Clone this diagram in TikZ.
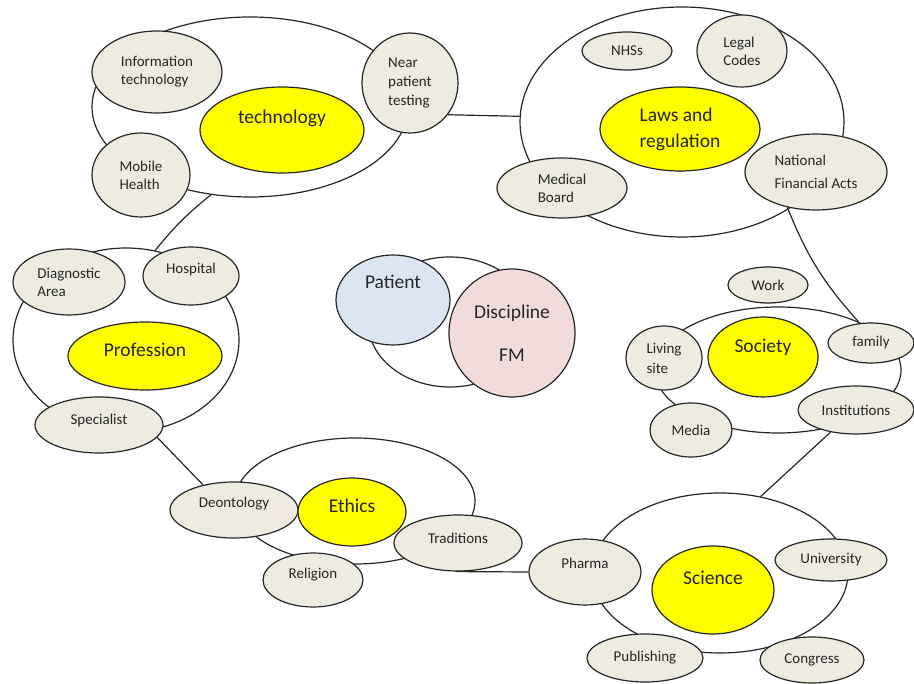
\documentclass[tikz,border=0pt]{standalone}
\usepackage{fontspec}
\setmainfont{Carlito}
\usetikzlibrary{shapes.geometric}
\definecolor{bubgrey}{HTML}{EEECE1}
\definecolor{coreyellow}{HTML}{FFFF00}
\definecolor{patblue}{HTML}{DCE6F2}
\definecolor{fmpink}{HTML}{F2DCDB}
\definecolor{inkline}{HTML}{262626}
\newcommand{\liftby}[2]{\raisebox{#1}[\height][\depth]{#2}}
\begin{document}
\begin{tikzpicture}[x=1pt, y=-1pt,
    every node/.style={ellipse, draw=inkline, line width=1.2pt, inner sep=0pt, text=black!85},
    dims/.style 2 args={minimum width=#1pt, minimum height=#2pt},
    ring/.style={fill=white},
    bub/.style={fill=bubgrey, font=\fontsize{15}{18}\selectfont, align=left},
    core/.style={fill=coreyellow, font=\fontsize{19.5}{24}\selectfont, align=center},
    link/.style={draw=inkline, line width=1.2pt}]
    \useasboundingbox (0,0) rectangle (914,684);
    % Grands ensembles
    \node[ring, dims={316}{180}] (techring) at (250,107) {};
    \node[ring, dims={324}{230}] (lawring) at (682,122) {};
    \node[ring, dims={226}{184}] (profring) at (126,340) {};
    \node[ring, dims={164}{130}] (mainring) at (450,322) {};
    \node[ring, dims={246}{126}] (socring) at (778,370) {};
    \node[ring, dims={240}{126}] (ethring) at (355,501) {};
    \node[ring, dims={256}{160}] (sciring) at (720,573) {};
    % Technologie
    \node[bub, dims={130}{82}] (infotech) at (157,72) {Information\\technology};
    \node[bub, dims={98}{84}] (mobile) at (141,175) {Mobile\\Health};
    \node[core, dims={164}{86}] (tech) at (282,130) {\liftby{12pt}{technology}};
    \node[bub, dims={96}{100}] (near) at (410,83) {Near\\[1pt]patient\\[1pt]testing};
    % Lois
    \node[bub, dims={90}{38}] (nhs) at (627,51) {NHSs};
    \node[bub, dims={90}{72}] (legal) at (742,51) {Legal\\Codes};
    \node[core, dims={160}{84}, align=left] (laws) at (680,129) {Laws and\\[2pt]regulation};
    \node[bub, dims={130}{60}] (medical) at (562,188) {Medical\\Board};
    \node[bub, dims={142}{76}] (nfa) at (816,172) {National\\[5pt]Financial Acts};
    % Profession
    \node[bub, dims={112}{66}] (diag) at (69,282) {Diagnostic\\Area};
    \node[bub, dims={96}{58}] (hosp) at (191,276) {\liftby{6pt}{Hospital}};
    \node[core, dims={154}{68}] (prof) at (145,356) {\liftby{6pt}{Profession}};
    \node[bub, dims={128}{56}] (spec) at (99,425) {\liftby{4pt}{Specialist}};
    % Centre
    \node[core, fill=patblue, dims={114}{90}] (patient) at (393,300) {\liftby{18pt}{Patient}};
    \node[core, fill=fmpink, dims={126}{128}] (fm) at (512,333) {Discipline\\[19pt]FM};
    % Societe
    \node[bub, dims={80}{36}] (work) at (768,285) {Work};
    \node[bub, dims={76}{64}] (living) at (664,358) {Living\\[2pt]site};
    \node[core, dims={110}{80}] (society) at (763,357) {\liftby{10pt}{Society}};
    \node[bub, dims={86}{40}] (family) at (871,343) {family};
    \node[bub, dims={116}{48}] (inst) at (856,410) {Institutions};
    \node[bub, dims={82}{54}] (media) at (691,430) {Media};
    % Ethique
    \node[bub, dims={128}{56}] (deon) at (234,510) {\liftby{6pt}{Deontology}};
    \node[core, dims={108}{68}] (ethics) at (352,512) {\liftby{6pt}{Ethics}};
    \node[bub, dims={128}{56}] (trad) at (458,543) {\liftby{5pt}{Traditions}};
    \node[bub, dims={100}{54}] (religion) at (313,580) {\liftby{5pt}{Religion}};
    % Science
    \node[bub, dims={112}{66}] (pharma) at (585,572) {\liftby{9pt}{Pharma}};
    \node[core, dims={122}{88}] (science) at (713,590) {\liftby{12pt}{Science}};
    \node[bub, dims={112}{42}] (univ) at (831,560) {University};
    \node[bub, dims={116}{48}] (publish) at (645,658) {Publishing};
    \node[bub, dims={104}{46}] (congress) at (812,660) {Congress};
    % Liens
    \draw[link] (near.320) -- (lawring.178);
    \draw[link] (techring.246) to[bend right=6] (profring.72);
    \draw[link] (nfa.231) to[bend right=10] (socring.31);
    \draw[link] (inst.221) -- (sciring.62);
    \draw[link] (spec.348) -- (deon.141);
    \draw[link] (trad.265) -- (pharma.west);
\end{tikzpicture}
\end{document}
